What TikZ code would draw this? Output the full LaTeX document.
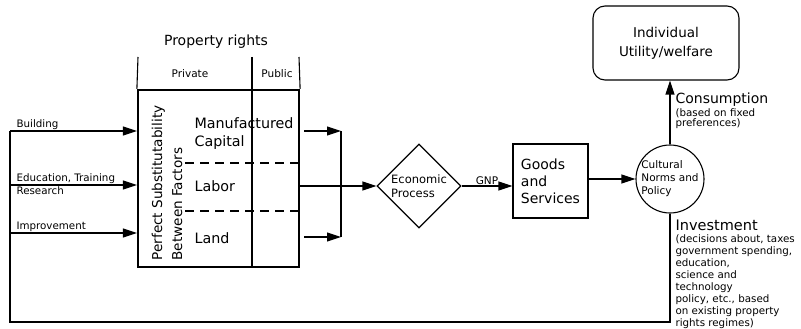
\documentclass[tikz,border=0pt]{standalone}
\usepackage{fontspec}
\setmainfont{DejaVu Sans}
\usetikzlibrary{arrows.meta, shapes.geometric}
\newcommand{\fsz}[2]{\fontsize{#1}{#2}\selectfont}
\tikzset{
  flow/.style={-{Triangle[length=14pt,width=9pt]}},
  thin line/.style={line width=1.1pt},
  FactorBox/.style={draw, line width=2.2pt, minimum width=161pt, minimum height=177pt, inner sep=0pt},
  GoodsBox/.style={draw, thin line, minimum width=75pt, minimum height=74pt, inner sep=0pt, align=left, font=\fsz{14}{17}},
  UtilBox/.style={draw, thin line, rounded corners=12pt, minimum width=146pt, minimum height=74pt, align=center, font=\fsz{13.5}{19}},
  EconDiamond/.style={draw, thin line, diamond, minimum width=84pt, minimum height=84pt, inner sep=0pt, align=left, font=\fsz{11.5}{13.5}},
  NormCircle/.style={draw, thin line, circle, minimum size=68pt, inner sep=0pt, align=left, font=\fsz{10.5}{13}},
  smalltext/.style={inner sep=0pt, align=left, font=\fsz{10.3}{12}},
  factortext/.style={inner sep=0pt, align=left, anchor=west, font=\fsz{14.3}{18}}
}
\begin{document}
\begin{tikzpicture}[x=1pt, y=-1pt, thin line]
  \useasboundingbox (0,0) rectangle (801,329);
  % property rights and factors
  \node[FactorBox] (factors) at (218.5,178.5) {};
  \coordinate (hdrL) at (138,57);
  \coordinate (hdrM) at (252,57);
  \coordinate (hdrR) at (299,57);
  \draw (hdrL) -- (factors.north west);
  \draw (hdrR) -- (factors.north east);
  \draw (hdrM) -- (hdrM |- factors.south);
  \node[font=\fsz{14}{16}] (property) at (216,42) {Property rights};
  \node[font=\fsz{10.5}{12}] (private) at (190,74) {Private};
  \node[font=\fsz{10.5}{12}] (public) at (277,74) {Public};
  \coordinate (dashA) at (185,163);
  \coordinate (dashB) at (185,211);
  \draw[dashed, dash pattern=on 9pt off 6pt] (dashA) -- (factors.east |- dashA);
  \draw[dashed, dash pattern=on 9pt off 6pt] (dashB) -- (factors.east |- dashB);
  \node[rotate=90, anchor=west, inner sep=0pt, align=left, font=\fsz{13.6}{20}] (substit) at (167,261)
    {Perfect Substitutability\\Between Factors};
  \node[factortext] (capital) at (194,134) {Manufactured\\Capital};
  \node[factortext] (labor) at (194,186) {Labor};
  \node[factortext] (land) at (194,238) {Land};
  % investment inputs
  \coordinate (inBuild) at (10,131);
  \coordinate (inEdu) at (10,185);
  \coordinate (inImpr) at (10,233);
  \draw[flow] (inBuild) -- (factors.west |- inBuild);
  \draw[flow] (inEdu) -- (factors.west |- inEdu);
  \draw[flow] (inImpr) -- (factors.west |- inImpr);
  \node[smalltext, anchor=west] (building) at (16,125) {Building};
  \node[smalltext, anchor=west, font=\fsz{10.3}{13}] (education) at (16,184.5) {Education, Training\\Research};
  \node[smalltext, anchor=west] (improve) at (16,227) {Improvement};
  % outputs of the factors
  \coordinate (collTop) at (341,131);
  \coordinate (collBot) at (341,237);
  \draw[flow] ([xshift=4pt]factors.east |- collTop) -- (collTop);
  \draw[flow] ([xshift=4pt]factors.east |- collBot) -- (collBot);
  \draw (collTop) -- (collBot);
  \node[EconDiamond] (econ) at (419,186) {Economic\\Process};
  \draw[flow] (factors.east |- econ.west) -- (econ.west);
  \node[GoodsBox] (goods) at (550.5,181) {Goods\\and\\Services};
  \draw[flow] (econ.east) -- (goods.west |- econ.east)
    node[midway, above=1pt, inner sep=0pt, font=\fsz{10.5}{12}] (gnp) {GNP};
  \node[NormCircle] (norms) at (670,179) {Cultural\\Norms and\\Policy};
  \draw[flow] (goods.east |- norms.west) -- (norms.west);
  % consumption
  \node[UtilBox] (utility) at (666,43) {Individual\\Utility/welfare};
  \draw[flow] (norms.north) -- (norms.north |- utility.south);
  \node[anchor=west, inner sep=0pt, font=\fsz{14}{16}] (consume) at (675,100) {Consumption};
  \node[smalltext, anchor=north west, font=\fsz{10.3}{10.5}] (consnote) at (675,108) {(based on fixed\\preferences)};
  % investment feedback
  \coordinate (fbCorner) at (10,322);
  \draw (norms.south) |- (fbCorner) -- (inBuild);
  \node[anchor=west, inner sep=0pt, font=\fsz{14.5}{16}] (invest) at (675,225) {Investment};
  \node[smalltext, anchor=north west] (investnote) at (675,234)
    {(decisions about, taxes\\government spending,\\education,\\science and\\technology\\policy, etc., based\\on existing property\\rights regimes)};
\end{tikzpicture}
\end{document}
